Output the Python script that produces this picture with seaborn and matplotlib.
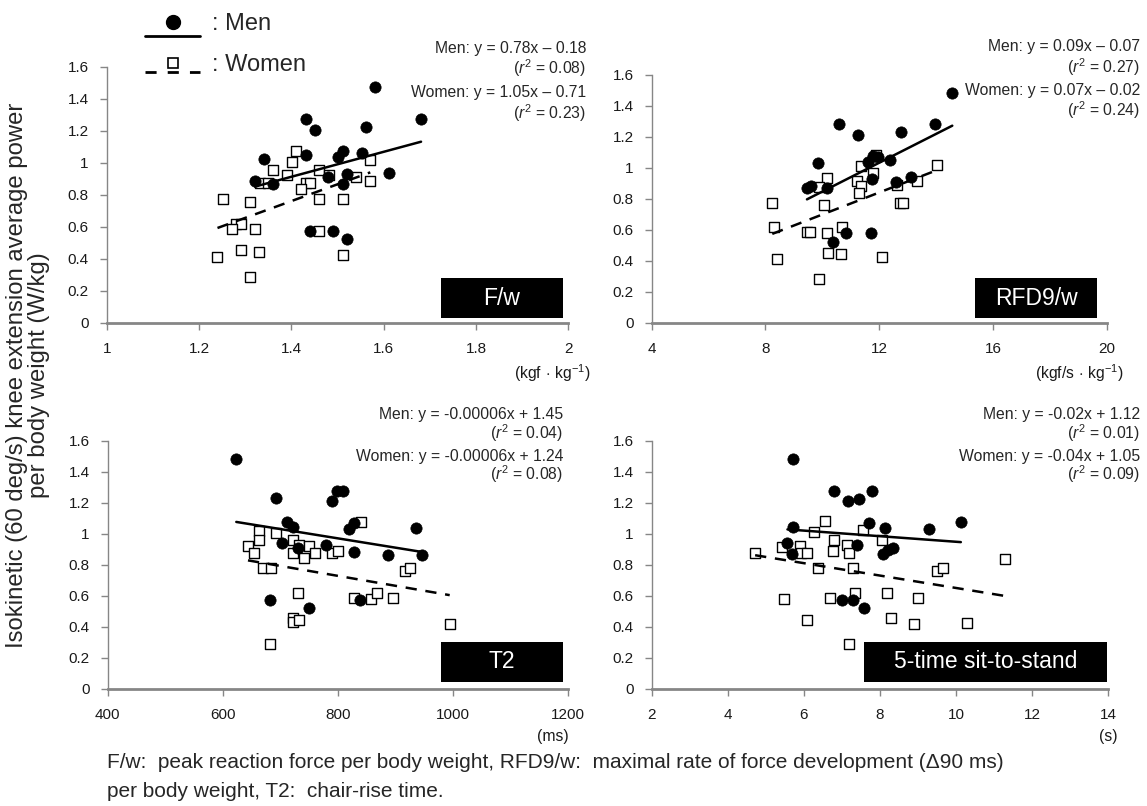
import numpy as np
import pandas as pd
import matplotlib
matplotlib.use("Agg")
import matplotlib.pyplot as plt
import seaborn as sns
from matplotlib.lines import Line2D
from matplotlib.patches import Rectangle
from matplotlib.ticker import FuncFormatter
from matplotlib.legend_handler import HandlerLine2D, HandlerTuple

# ---------------- data ----------------
fw_men_x = [1.581, 1.681, 1.431, 1.451, 1.561, 1.511, 1.552, 1.501, 1.431, 1.340, 1.321, 1.360, 1.480, 1.521, 1.511, 1.612, 1.440, 1.491, 1.521]
fw_men_y = [1.475, 1.275, 1.275, 1.204, 1.225, 1.075, 1.063, 1.033, 1.046, 1.025, 0.883, 0.867, 0.908, 0.927, 0.865, 0.933, 0.575, 0.575, 0.523]
fw_women_x = [1.411, 1.401, 1.570, 1.360, 1.391, 1.461, 1.481, 1.541, 1.571, 1.332, 1.350, 1.431, 1.440, 1.421, 1.251, 1.311, 1.461, 1.511, 1.281, 1.291, 1.271, 1.321, 1.461, 1.240, 1.291, 1.331, 1.511, 1.311]
fw_women_y = [1.075, 1.006, 1.017, 0.954, 0.925, 0.954, 0.923, 0.913, 0.885, 0.871, 0.871, 0.875, 0.875, 0.835, 0.775, 0.754, 0.775, 0.775, 0.615, 0.615, 0.585, 0.585, 0.575, 0.413, 0.454, 0.444, 0.425, 0.285]

rfd_men_x = [14.57, 10.59, 11.24, 12.76, 13.95, 9.86, 11.79, 11.97, 11.62, 12.38, 11.76, 12.59, 13.11, 9.46, 9.59, 10.15, 10.36, 10.82, 11.70]
rfd_men_y = [1.480, 1.280, 1.209, 1.230, 1.280, 1.028, 1.077, 1.067, 1.039, 1.049, 0.927, 0.908, 0.938, 0.867, 0.882, 0.867, 0.523, 0.576, 0.576]
rfd_women_x = [14.04, 11.90, 11.37, 11.77, 10.17, 11.21, 11.35, 9.88, 11.30, 12.64, 13.34, 8.24, 10.06, 12.74, 12.83, 8.31, 9.46, 9.55, 10.69, 10.15, 10.20, 10.67, 12.11, 8.41, 9.87]
rfd_women_y = [1.015, 1.082, 1.011, 0.963, 0.931, 0.916, 0.882, 0.873, 0.839, 0.888, 0.916, 0.774, 0.757, 0.774, 0.774, 0.615, 0.583, 0.583, 0.615, 0.576, 0.452, 0.443, 0.421, 0.411, 0.282]

t2_men_x = [623.5, 692.5, 789.8, 799.1, 809.5, 712.2, 721.5, 818.8, 828.6, 936.3, 702.4, 731.3, 779.9, 828.6, 887.1, 945.7, 682.6, 838.4, 750.4]
t2_men_y = [1.482, 1.228, 1.211, 1.277, 1.277, 1.077, 1.045, 1.028, 1.067, 1.037, 0.938, 0.910, 0.927, 0.884, 0.865, 0.865, 0.572, 0.572, 0.523]
t2_women_x = [839.7, 663.5, 663.5, 692.5, 643.8, 653.7, 721.5, 721.5, 731.9, 750.4, 741.2, 760.3, 789.8, 799.7, 670.5, 683.3, 916.7, 925.4, 731.3, 828.6, 858.2, 867.5, 896.4, 721.5, 721.5, 731.9, 994.4, 682.6]
t2_women_y = [1.077, 1.017, 0.959, 1.006, 0.920, 0.877, 0.959, 0.877, 0.927, 0.920, 0.841, 0.877, 0.877, 0.888, 0.781, 0.781, 0.759, 0.776, 0.617, 0.583, 0.576, 0.617, 0.583, 0.458, 0.428, 0.443, 0.415, 0.286]

sts_men_x = [5.72, 6.79, 7.17, 7.45, 7.79, 5.71, 7.71, 8.14, 9.30, 10.13, 5.57, 5.70, 7.39, 8.07, 8.22, 8.35, 7.01, 7.30, 7.58]
sts_men_y = [1.482, 1.277, 1.211, 1.226, 1.277, 1.045, 1.067, 1.039, 1.028, 1.077, 0.938, 0.869, 0.927, 0.869, 0.895, 0.910, 0.572, 0.572, 0.523]
sts_women_x = [4.72, 6.55, 6.26, 7.56, 8.06, 6.79, 5.42, 5.90, 5.92, 6.08, 6.76, 7.14, 7.20, 6.37, 7.29, 9.51, 9.67, 11.29, 5.48, 6.69, 7.35, 8.20, 9.00, 6.09, 8.29, 8.90, 10.30, 7.20]
sts_women_y = [0.877, 1.082, 1.009, 1.024, 0.959, 0.959, 0.916, 0.920, 0.877, 0.877, 0.888, 0.927, 0.877, 0.776, 0.776, 0.759, 0.776, 0.834, 0.576, 0.583, 0.617, 0.617, 0.583, 0.443, 0.458, 0.417, 0.426, 0.286]

# regression lines as drawn (slope, intercept)
fit_men = [(0.78, -0.18), (0.093, -0.084), (-0.0006, 1.45), (-0.018, 1.128)]
fit_women = [(1.05, -0.71), (0.071, -0.012), (-0.00064, 1.24), (-0.04, 1.05)]

panel_names = ["F/w", "RFD9/w", "T2", "5-time sit-to-stand"]
men_eq = ["Men: y = 0.78x \u2013 0.18", "Men: y = 0.09x \u2013 0.07",
          "Men: y = -0.00006x + 1.45", "Men: y = -0.02x + 1.12"]
men_r2 = ["0.08", "0.27", "0.04", "0.01"]
women_eq = ["Women: y = 1.05x \u2013 0.71", "Women: y = 0.07x \u2013 0.02",
            "Women: y = -0.00006x + 1.24", "Women: y = -0.04x + 1.05"]
women_r2 = ["0.23", "0.24", "0.08", "0.09"]
x_ticks = [[1, 1.2, 1.4, 1.6, 1.8, 2], [4, 8, 12, 16, 20],
           [400, 600, 800, 1000, 1200], [2, 4, 6, 8, 10, 12, 14]]
x_units = [r"(kgf$\,\cdot\,$kg$^{-1}$)", r"(kgf/s$\,\cdot\,$kg$^{-1}$)", "(ms)", "(s)"]
y_ticks = [0, 0.2, 0.4, 0.6, 0.8, 1.0, 1.2, 1.4, 1.6]

ylabel = "Isokinetic (60 deg/s) knee extension average power\nper body weight (W/kg)"
caption = ("F/w:  peak reaction force per body weight, RFD9/w:  maximal rate of force development (\u039490 ms)\n"
           "per body weight, T2:  chair-rise time.")

# ---------------- style ----------------
sns.set_style("white")
plt.rcParams['font.family'] = ['Liberation Sans', 'DejaVu Sans']
plt.rcParams['mathtext.fontset'] = 'custom'
plt.rcParams['mathtext.rm'] = 'Liberation Sans'
plt.rcParams['mathtext.it'] = 'Liberation Sans:italic'
plt.rcParams['mathtext.cal'] = 'Liberation Sans'

W, H = 1147, 806
fig = plt.figure(figsize=(W / 100, H / 100), dpi=100)
fig.patch.set_facecolor("white")


def fx(px):
    return px / W


def fy(py):
    return 1 - py / H


boxes = [(106.7, 66.7, 568.3, 322.7), (651.7, 74.7, 1106.7, 322.7),
         (107.7, 440.7, 568.0, 688.7), (651.7, 440.7, 1108.0, 688.7)]
datasets = [(fw_men_x, fw_men_y, fw_women_x, fw_women_y),
            (rfd_men_x, rfd_men_y, rfd_women_x, rfd_women_y),
            (t2_men_x, t2_men_y, t2_women_x, t2_women_y),
            (sts_men_x, sts_men_y, sts_women_x, sts_women_y)]
ann_right = [586, 1140, 563, 1140]
ann_rows = [(48, 68, 93, 113), (47, 67, 91, 110), (415, 433, 456, 474), (415, 433, 456, 474)]
label_boxes = [(441, 278, 563, 318), (975, 278, 1097, 318), (441, 642, 563, 682), (864, 642, 1107, 682)]
unit_pos = [(590, 373), (1124, 373), (569, 736), (1117, 736)]

gray = "#868686"
txt = "#1a1a1a"
fmt = FuncFormatter(lambda v, p: ("%g" % round(v, 3)))
ann_fs = 11.3

for i in range(4):
    l, t, r, b = boxes[i]
    ax = fig.add_axes([fx(l), fy(b), fx(r - l), (b - t) / H])
    mx, my, wx, wy = datasets[i]
    dw = pd.DataFrame({"x": wx, "y": wy})
    dm = pd.DataFrame({"x": mx, "y": my})
    sns.scatterplot(data=dw, x="x", y="y", marker="s", s=52, facecolor="white",
                    edgecolor="black", linewidth=1.0, ax=ax, zorder=3)
    sns.scatterplot(data=dm, x="x", y="y", marker="o", s=66, color="black",
                    edgecolor="black", linewidth=0.5, ax=ax, zorder=4)
    sm, im = fit_men[i]
    xm = np.array([min(mx), max(mx)])
    sns.lineplot(x=xm, y=sm * xm + im, color="black", linewidth=1.8, ax=ax, zorder=5)
    sw, iw = fit_women[i]
    xw = np.array([min(wx), max(wx)])
    sns.lineplot(x=xw, y=sw * xw + iw, color="black", linewidth=1.8,
                 linestyle=(0, (4.5, 3.5)), ax=ax, zorder=5)

    xt = x_ticks[i]
    ax.set_xlim(xt[0], xt[-1])
    ax.set_ylim(0, 1.6)
    ax.set_xticks(xt)
    ax.set_yticks(y_ticks)
    ax.xaxis.set_major_formatter(fmt)
    ax.yaxis.set_major_formatter(fmt)
    ax.set_xlabel("")
    ax.set_ylabel("")
    for s in ["top", "right"]:
        ax.spines[s].set_visible(False)
    for s in ["left", "bottom"]:
        ax.spines[s].set_color(gray)
        ax.spines[s].set_linewidth(1.0)
    ax.spines["bottom"].set_linewidth(2.0)
    ax.tick_params(axis="both", bottom=True, left=True, direction="out", length=5,
                   width=1, color=gray, labelsize=11, labelcolor=txt)
    ax.tick_params(axis="x", pad=9)
    ax.tick_params(axis="y", pad=8)
    ax.patch.set_alpha(0)

    xr = ann_right[i]
    rows = ann_rows[i]
    fig.text(fx(xr), fy(rows[0]), men_eq[i], ha="right", va="center", fontsize=ann_fs)
    fig.text(fx(xr), fy(rows[1]), r"($\mathit{r}^2$ = " + men_r2[i] + ")", ha="right", va="center", fontsize=ann_fs)
    fig.text(fx(xr), fy(rows[2]), women_eq[i], ha="right", va="center", fontsize=ann_fs)
    fig.text(fx(xr), fy(rows[3]), r"($\mathit{r}^2$ = " + women_r2[i] + ")", ha="right", va="center", fontsize=ann_fs)

    bl, bt, br, bb = label_boxes[i]
    fig.add_artist(Rectangle((fx(bl), fy(bb)), fx(br - bl), (bb - bt) / H,
                             transform=fig.transFigure, facecolor="black", edgecolor="none"))
    fig.text(fx((bl + br) / 2), fy((bt + bb) / 2), panel_names[i], color="white",
             ha="center", va="center", fontsize=16.5)

    ux, uy = unit_pos[i]
    fig.text(fx(ux), fy(uy), x_units[i], ha="right", va="center", fontsize=ann_fs, color=txt)

# y label
fig.text(fx(28), fy(375), ylabel, rotation=90, ha="center", va="center",
         fontsize=17.2, linespacing=1.0)

# caption
fig.text(fx(107), fy(777), caption, ha="left", va="center", fontsize=15, linespacing=1.62)


# legend: marker drawn above its line, as in the reference
class LoweredLine(HandlerLine2D):
    def __init__(self, dy, **kw):
        super().__init__(**kw)
        self.dy = dy

    def create_artists(self, legend, orig_handle, xdescent, ydescent, width, height, fontsize, trans):
        return super().create_artists(legend, orig_handle, xdescent, ydescent + self.dy * fontsize,
                                      width, height, fontsize, trans)


men_line = Line2D([], [], color="black", linestyle="-", linewidth=2.0)
men_mark = Line2D([], [], color="black", linestyle="none", marker="o", markersize=10)
women_line = Line2D([], [], color="black", linestyle=(0, (4, 4)), linewidth=2.0)
women_mark = Line2D([], [], color="black", linestyle="none", marker="s", markersize=7.5,
                    markerfacecolor="white", markeredgewidth=1.2)
fig.legend([(men_line, men_mark), (women_line, women_mark)], [": Men", ": Women"],
           handler_map={men_line: LoweredLine(1.2), women_line: LoweredLine(0.8),
                        tuple: HandlerTuple(ndivide=1)},
           loc="upper left", bbox_to_anchor=(fx(145), fy(13)),
           frameon=False, fontsize=17, handlelength=2.35, handletextpad=0.5, labelspacing=0.8,
           borderaxespad=0, borderpad=0)

fig.savefig("out.png", dpi=100, facecolor="white")
